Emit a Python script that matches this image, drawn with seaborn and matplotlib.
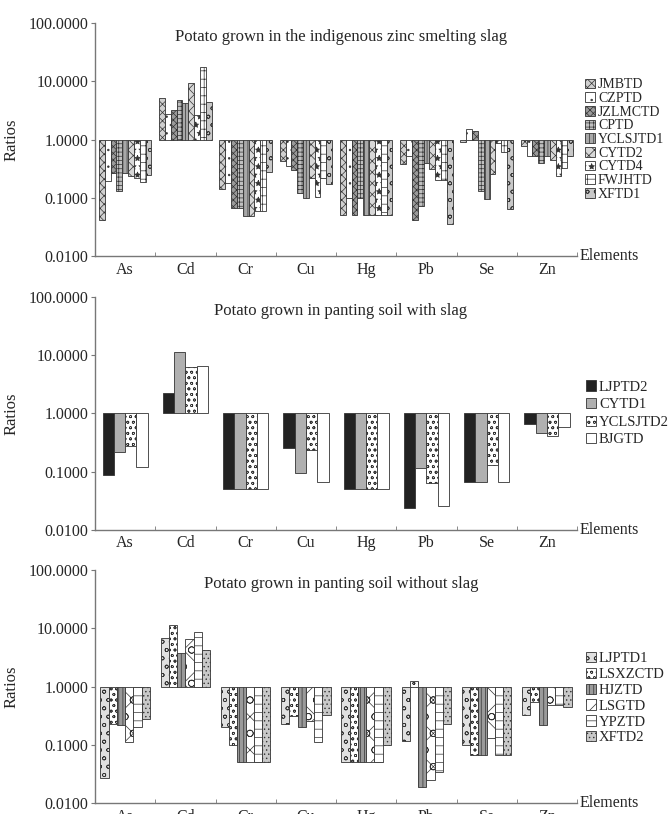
import numpy as np
import pandas as pd
import matplotlib
matplotlib.use("Agg")
import matplotlib.pyplot as plt
import seaborn as sns

elements = ["As", "Cd", "Cr", "Cu", "Hg", "Pb", "Se", "Zn"]
ytick_labels = ["0.0100", "0.1000", "1.0000", "10.0000", "100.0000"]

# Panel 1 - indigenous zinc smelting slag
sites_1 = ["JMBTD", "CZPTD", "JZLMCTD", "CPTD", "YCLSJTD1", "CYTD2", "CYTD4", "FWJHTD", "XFTD1"]
ratios_1 = [
    [0.042, 0.195, 0.27, 0.13, 0.27, 0.24, 0.22, 0.19, 0.25],   # As
    [5.1, 2.75, 3.2, 4.8, 4.2, 9.4, 2.6, 17.8, 4.4],            # Cd
    [0.14, 0.18, 0.067, 0.067, 0.048, 0.048, 0.059, 0.059, 0.28],  # Cr
    [0.42, 0.35, 0.30, 0.12, 0.098, 0.22, 0.105, 0.22, 0.17],   # Cu
    [0.05, 0.10, 0.05, 0.10, 0.05, 0.05, 0.05, 0.05, 0.05],     # Hg
    [0.38, 0.53, 0.042, 0.072, 0.40, 0.31, 0.20, 0.20, 0.035],  # Pb
    [0.92, 1.5, 1.4, 0.13, 0.095, 0.26, 0.88, 0.62, 0.065],     # Se
    [0.76, 0.53, 0.53, 0.40, 0.53, 0.44, 0.24, 0.33, 0.53],     # Zn
]

# Panel 2 - panting soil with slag
sites_2 = ["LJPTD2", "CYTD1", "YCLSJTD2", "BJGTD"]
ratios_2 = [
    [0.088, 0.22, 0.28, 0.12],
    [2.2, 11.4, 6.3, 6.5],
    [0.05, 0.05, 0.05, 0.05],
    [0.25, 0.095, 0.24, 0.067],
    [0.05, 0.05, 0.05, 0.05],
    [0.024, 0.114, 0.064, 0.026],
    [0.067, 0.067, 0.13, 0.067],
    [0.65, 0.47, 0.41, 0.59],
]

# Panel 3 - panting soil without slag
sites_3 = ["LJPTD1", "LSXZCTD", "HJZTD", "LSGTD", "YPZTD", "XFTD2"]
ratios_3 = [
    [0.027, 0.225, 0.22, 0.112, 0.20, 0.28],
    [6.7, 11.2, 3.7, 6.5, 8.7, 4.3],
    [0.20, 0.10, 0.05, 0.05, 0.05, 0.05],
    [0.23, 0.31, 0.20, 0.26, 0.11, 0.32],
    [0.05, 0.05, 0.05, 0.05, 0.05, 0.10],
    [0.115, 1.23, 0.019, 0.025, 0.034, 0.23],
    [0.10, 0.068, 0.068, 0.133, 0.068, 0.068],
    [0.33, 0.55, 0.22, 0.49, 0.49, 0.44],
]

titles = ["Potato grown in the indigenous zinc smelting slag",
          "Potato grown in panting soil with slag",
          "Potato grown in panting soil without slag"]

# fill colours + hatches for each series
faces_1 = ["#d0d0d0", "#ffffff", "#9a9a9a", "#c0c0c0", "#a8a8a8", "#d8d8d8", "#ffffff", "#ffffff", "#c8c8c8"]
hatch_1 = ["xxxx", "..", "xxxxx", "++++", "||||", "xxx", "**", "++", "oo"]
faces_2 = ["#222222", "#b0b0b0", "#ffffff", "#ffffff"]
hatch_2 = ["", "", "ooo", ""]
faces_3 = ["#e0e0e0", "#ffffff", "#9a9a9a", "#ffffff", "#ffffff", "#c8c8c8"]
hatch_3 = ["oo", "ooo", "||||", "xo", "--", "...."]

sns.set_style("ticks")
plt.rcParams["font.family"] = ["Liberation Serif", "DejaVu Serif"]
plt.rcParams["hatch.linewidth"] = 0.5


def to_long(ratios, sites):
    rows = []
    for el, vals in zip(elements, ratios):
        for s, v in zip(sites, vals):
            rows.append({"element": el, "site": s, "logr": np.log10(v)})
    return pd.DataFrame(rows)


fig = plt.figure(figsize=(6.71, 8.14), dpi=100)
boxes = [[0.1416, 0.6855, 0.7184, 0.2862],
         [0.1416, 0.3490, 0.7184, 0.2862],
         [0.1416, 0.0135, 0.7184, 0.2862]]

# ratios, sites, faces, hatches, bar width, legend font, legend spacing, legend y
panels = [(ratios_1, sites_1, faces_1, hatch_1, 0.87, 10, 0.05, 0.5),
          (ratios_2, sites_2, faces_2, hatch_2, 0.75, 10.5, 0.3, 0.5),
          (ratios_3, sites_3, faces_3, hatch_3, 0.82, 10.5, 0.18, 0.45)]

for i, (ratios, sites, faces, hatches, w, lfs, lsp, ly) in enumerate(panels):
    ax = fig.add_axes(boxes[i])
    df = to_long(ratios, sites)
    sns.barplot(data=df, x="element", y="logr", hue="site", order=elements,
                hue_order=sites, palette=faces, saturation=1, width=w,
                edgecolor="#333333", linewidth=0.6, legend=False, ax=ax,
                errorbar=None)
    for cont, h in zip(ax.containers, hatches):
        for p in cont:
            p.set_hatch(h)

    ax.set_ylim(-2, 2)
    ax.set_yticks([-2, -1, 0, 1, 2])
    ax.set_yticklabels(ytick_labels, fontsize=11.5)
    ax.set_xlim(-0.5, 7.5)
    ax.set_xticks(range(len(elements)))
    ax.set_xticklabels(elements, fontsize=11.5)
    ax.set_xticks(np.arange(0.5, 8, 1), minor=True)
    ax.tick_params(axis="x", which="major", length=0, pad=4)
    ax.tick_params(axis="x", which="minor", length=3, direction="in", color="#777777")
    ax.tick_params(axis="y", length=3, color="#777777", pad=2)
    ax.set_xlabel("")
    ax.set_ylabel("Ratios", fontsize=12, labelpad=6)
    sns.despine(ax=ax)
    for sp in ["left", "bottom"]:
        ax.spines[sp].set_color("#777777")
        ax.spines[sp].set_linewidth(1.0)

    ax.text(0.51, 0.94, titles[i], transform=ax.transAxes, ha="center",
            va="center", fontsize=12)
    ax.text(1.006, 0.0, "Elements", transform=ax.transAxes, ha="left",
            va="center", fontsize=11.5)
    ax.legend(ax.containers, sites, loc="center left", bbox_to_anchor=(1.0, ly),
              frameon=False, fontsize=lfs, handlelength=0.7, handleheight=0.7,
              handletextpad=0.2, labelspacing=lsp, borderaxespad=0.2)

fig.savefig("out.png", dpi=100)
